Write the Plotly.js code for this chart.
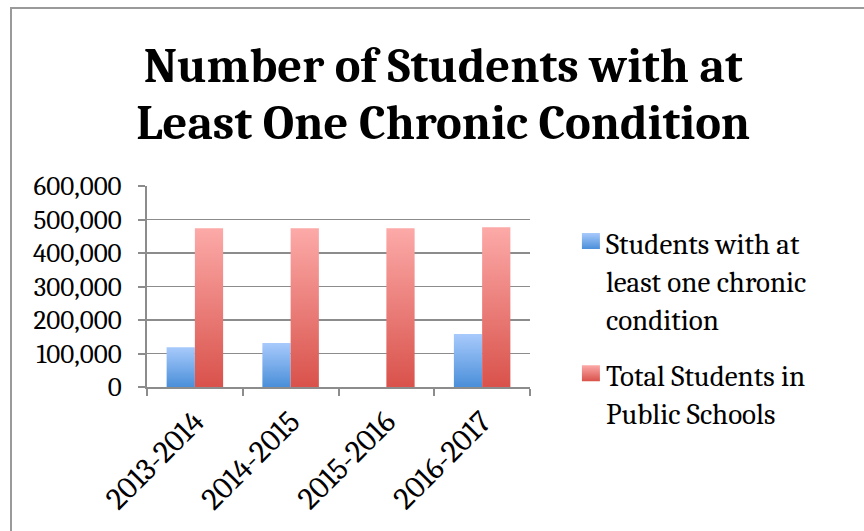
<!DOCTYPE html>
<html>
<head>
<meta charset="utf-8">
<script src="https://cdn.plot.ly/plotly-3.0.1.min.js"></script>
<style>
  html, body { margin: 0; padding: 0; background: #fff; overflow: hidden; }
  #wrap { position: relative; width: 864px; height: 531px; }
  #frame { position: absolute; left: 10px; top: 7px; width: 900px; height: 600px;
           border-left: 2px solid #9a9a9a; border-top: 2px solid #9a9a9a; pointer-events: none; }
  #chart { position: absolute; left: 0; top: 0; width: 864px; height: 531px; }
</style>
</head>
<body>
<div id="wrap">
  <div id="chart"></div>
  <div id="frame"></div>
</div>
<script>
const categories = ["2013-2014", "2014-2015", "2015-2016", "2016-2017"];
const chronicStudents = [119000, 131000, null, 158000];
const totalStudents = [474000, 474000, 474000, 477000];
const seriesNames = ["Students with at<br>least one chronic<br>condition", "Total Students in<br>Public Schools"];
const yTicks = [0, 100000, 200000, 300000, 400000, 500000, 600000];

const FONT = "Cambria, 'Liberation Serif', serif";

const traces = [
  { type: "bar", name: seriesNames[0], x: categories, y: chronicStudents,
    marker: { color: "#7aaeea" }, legendgroup: "a" },
  { type: "bar", name: seriesNames[1], x: categories, y: totalStudents,
    marker: { color: "#ec7f7a" }, legendgroup: "b" }
];

const layout = {
  width: 864, height: 531,
  paper_bgcolor: "#fff", plot_bgcolor: "#fff",
  margin: { l: 147, r: 334, t: 186, b: 144 },
  font: { family: FONT, color: "#000" },
  title: {
    text: "<b>Number of Students with at<br>Least One Chronic Condition</b>",
    font: { family: FONT, size: 48.5, color: "#000" },
    xref: "container", x: 0.513, xanchor: "center",
    yref: "container", y: 0.845, yanchor: "top"
  },
  barmode: "group", bargap: 0.41, bargroupgap: 0,
  xaxis: {
    type: "category",
    showline: true, linecolor: "#8c8c8c", linewidth: 2,
    ticks: "outside", tickson: "boundaries", ticklen: 7, tickcolor: "#8c8c8c", tickwidth: 2,
    tickangle: -45, tickfont: { family: FONT, size: 31, color: "#000" },
    ticklabelstandoff: 2,
    showgrid: false
  },
  yaxis: {
    range: [0, 600000], tickvals: yTicks, tickformat: ",d",
    showline: true, linecolor: "#8c8c8c", linewidth: 2,
    ticks: "outside", ticklen: 7, tickcolor: "#8c8c8c", tickwidth: 2,
    ticklabelstandoff: 11,
    showgrid: true, gridcolor: "#8c8c8c", gridwidth: 1.5,
    zeroline: false,
    tickfont: { family: FONT, size: 27, color: "#000" }
  },
  showlegend: true,
  legend: {
    xref: "container", yref: "container",
    x: 0.655, xanchor: "left", y: 0.59, yanchor: "top",
    font: { family: FONT, size: 29, color: "#000" },
    tracegroupgap: 16, itemwidth: 30, valign: "top",
    bgcolor: "rgba(0,0,0,0)"
  }
};

function addGradients(gd) {
  const svg = gd.querySelector("svg.main-svg");
  const ns = "http://www.w3.org/2000/svg";
  let defs = svg.querySelector("defs");
  if (!defs) { defs = document.createElementNS(ns, "defs"); svg.insertBefore(defs, svg.firstChild); }
  function grad(id, top, bottom) {
    const g = document.createElementNS(ns, "linearGradient");
    g.setAttribute("id", id);
    g.setAttribute("x1", "0"); g.setAttribute("y1", "0");
    g.setAttribute("x2", "0"); g.setAttribute("y2", "1");
    [[0, top], [1, bottom]].forEach(([o, c]) => {
      const s = document.createElementNS(ns, "stop");
      s.setAttribute("offset", o); s.setAttribute("stop-color", c);
      g.appendChild(s);
    });
    defs.appendChild(g);
  }
  grad("gBlue", "#a8cafc", "#4a8fd9");
  grad("gRed", "#fcaaa8", "#d9524b");
  const ids = ["gBlue", "gRed"];
  gd.querySelectorAll(".barlayer .trace").forEach((tr, i) => {
    tr.querySelectorAll("path").forEach(p => { p.style.fill = "url(#" + ids[i] + ")"; });
  });
  gd.querySelectorAll(".legend .traces").forEach((tr, i) => {
    tr.querySelectorAll(".legendpoints path").forEach(p => {
      p.style.fill = "url(#" + ids[i] + ")";
      p.setAttribute("d", "M14,6H-4V-10H14Z");
    });
  });
  // tighten title line spacing to match the reference
  gd.querySelectorAll(".gtitle tspan.line").forEach((t, i) => {
    if (i > 0) t.setAttribute("dy", "1.16em");
  });
}

Plotly.newPlot("chart", traces, layout, { displayModeBar: false, staticPlot: true })
  .then(addGradients);
</script>
</body>
</html>
